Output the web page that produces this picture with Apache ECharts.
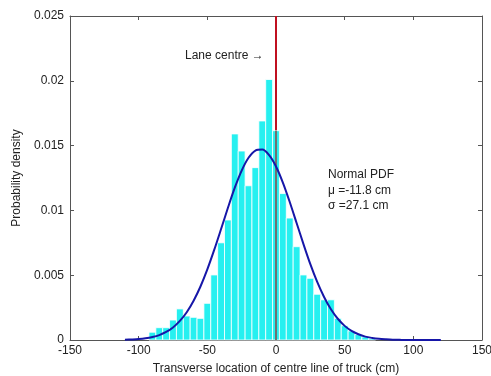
<!DOCTYPE html>
<html>
<head>
<meta charset="utf-8">
<script src="https://cdn.jsdelivr.net/npm/echarts@6/dist/echarts.min.js"></script>
<style>
  html, body { margin: 0; padding: 0; background: #fff; }
  #main { width: 491px; height: 376px; }
</style>
</head>
<body>
<div id="main"></div>
<script>
// histogram bins (centre, cm) and density
var binCentres = [-90, -85, -80, -75, -70, -65, -60, -55, -50, -45, -40, -35, -30, -25, -20, -15, -10, -5,
  0, 5, 10, 15, 20, 25, 30, 35, 40, 45, 50, 55, 60, 65, 70];
var binDensity = [0.0006, 0.00095, 0.00095, 0.00154, 0.0024, 0.00185, 0.00175, 0.00167, 0.00283, 0.00502,
  0.0075, 0.00926, 0.0159, 0.01458, 0.0119, 0.0133, 0.0169, 0.0201,
  0.01615, 0.0113, 0.00941, 0.0072, 0.00502, 0.00476, 0.00353, 0.0031, 0.0031, 0.00167, 0.0011, 0.0007,
  0.00042, 0.00024, 0.00012];
var binWidth = 5;

// normal pdf curve
var pdfX = [-110, -105, -100, -95, -90, -85, -80, -75, -70, -65, -60, -55, -50, -45, -40, -35, -30, -25,
  -20, -15, -10, -5, 0, 5, 10, 15, 20, 25, 30, 35, 40, 45, 50, 55, 60, 65, 70, 75, 80, 85, 90, 95,
  100, 105, 110, 115, 120];
var pdfY = [0.00002, 0.00004, 0.00007, 0.00013, 0.00023, 0.00038, 0.00062, 0.00097, 0.00147, 0.00214,
  0.00303, 0.00413, 0.00545, 0.00695, 0.00856, 0.0102, 0.01175, 0.01307, 0.01406, 0.01462, 0.01469,
  0.01426, 0.01339, 0.01215, 0.01065, 0.00903, 0.0074, 0.00585, 0.00448, 0.00332, 0.00237, 0.00164,
  0.00109, 0.0007, 0.00044, 0.00026, 0.00016, 0.00009, 0.00005, 0.00002, 0.00001, 0, 0, 0, 0, 0, 0];

var xTicks = { min: -150, max: 150, interval: 50 };
var yTicks = { min: 0, max: 0.025, interval: 0.005 };
var laneCentre = 0;

var axisColor = '#555';
var textColor = '#222';
var font = '"Liberation Sans", Arial, sans-serif';

var histData = binCentres.map(function (c, i) { return [c, binDensity[i]]; });
var pdfData = pdfX.map(function (x, i) { return [x, pdfY[i]]; });
var centreBarHeight = binDensity[binCentres.indexOf(laneCentre)];

var myChart = echarts.init(document.getElementById('main'));

function axisBase(show) {
  return {
    type: 'value',
    axisLine: { show: true, onZero: false, lineStyle: { color: axisColor, width: 1 } },
    axisTick: { show: true, inside: true, length: 4, lineStyle: { color: axisColor } },
    axisLabel: { show: show, color: textColor, fontFamily: font, fontSize: 12 },
    splitLine: { show: false }
  };
}

var xBottom = Object.assign(axisBase(true), xTicks, {
  position: 'bottom',
  name: 'Transverse location of centre line of truck (cm)',
  nameLocation: 'middle',
  nameGap: 23,
  nameTextStyle: { color: textColor, fontFamily: font, fontSize: 12 }
});
xBottom.axisLabel.margin = 5;
var xTop = Object.assign(axisBase(false), xTicks, { position: 'top' });

var yLeft = Object.assign(axisBase(true), yTicks, {
  position: 'left',
  name: 'Probability density',
  nameLocation: 'middle',
  nameGap: 42,
  nameTextStyle: { color: textColor, fontFamily: font, fontSize: 12 }
});
yLeft.axisLabel.margin = 6;
var yRight = Object.assign(axisBase(false), yTicks, { position: 'right' });

myChart.setOption({
  animation: false,
  backgroundColor: '#fff',
  grid: { left: 70, right: 9, top: 16, bottom: 36, containLabel: false, outerBoundsMode: 'none' },
  xAxis: [xBottom, xTop],
  yAxis: [yLeft, yRight],
  graphic: [
    { type: 'text', left: 185, top: 50, style: { text: 'Lane centre \u2192', fill: textColor, font: '12px ' + font } },
    { type: 'text', left: 328, top: 169, style: { text: 'Normal PDF', fill: textColor, font: '12px ' + font } },
    { type: 'text', left: 328, top: 185, style: { text: '\u03bc =-11.8 cm', fill: textColor, font: '12px ' + font } },
    { type: 'text', left: 328, top: 200, style: { text: '\u03c3 =27.1 cm', fill: textColor, font: '12px ' + font } }
  ],
  series: [
    {
      type: 'line',
      z: 1,
      data: [[laneCentre, yTicks.min], [laneCentre, yTicks.max]],
      showSymbol: false,
      lineStyle: { color: '#c01020', width: 2 }
    },
    {
      type: 'custom',
      z: 2,
      data: histData,
      renderItem: function (params, api) {
        var c = api.value(0), v = api.value(1);
        var p1 = api.coord([c - binWidth / 2, v]);
        var p2 = api.coord([c + binWidth / 2, 0]);
        return {
          type: 'rect',
          shape: { x: p1[0], y: p1[1], width: p2[0] - p1[0], height: p2[1] - p1[1] },
          style: { fill: '#26f0f0', stroke: '#ffffff', lineWidth: 0.8 }
        };
      }
    },
    {
      type: 'line',
      z: 3,
      data: [[laneCentre, 0], [laneCentre, centreBarHeight]],
      showSymbol: false,
      lineStyle: { color: '#707070', width: 2 }
    },
    {
      type: 'line',
      z: 4,
      data: pdfData,
      smooth: 0.3,
      showSymbol: false,
      lineStyle: { color: '#1616a8', width: 2 }
    }
  ]
});
</script>
</body>
</html>
